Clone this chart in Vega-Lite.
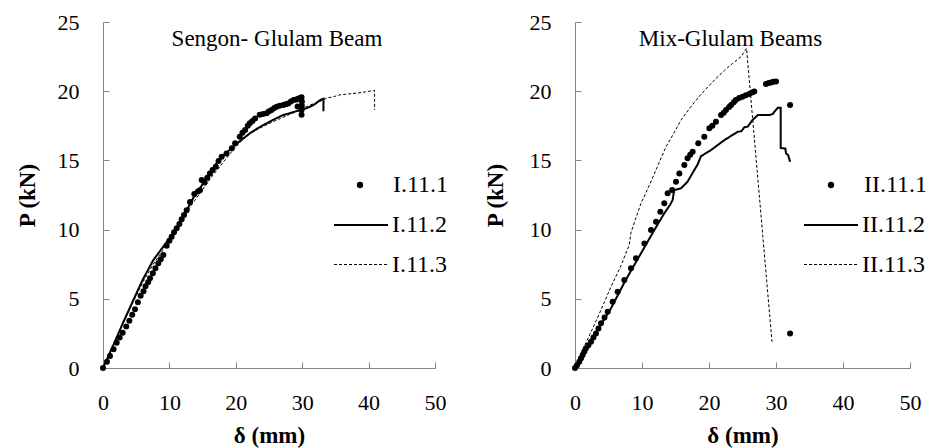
{
"$schema": "https://vega.github.io/schema/vega-lite/v6.json",
"padding": {"left": 16, "top": 11, "right": 5, "bottom": 2},
"background": "white",
"spacing": 35,
"config": {
  "view": {"stroke": null},
  "axis": {"domainColor": "#868686", "tickColor": "#868686", "domainWidth": 1, "tickWidth": 1, "grid": false,
    "labelFont": "Liberation Serif", "labelFontSize": 22, "labelColor": "black",
    "titleFont": "Liberation Serif", "titleFontSize": 23, "titleFontWeight": "bold", "titleColor": "black",
    "tickSize": -6, "labelFlush": false, "labelOverlap": false},
  "title": {"font": "Liberation Serif", "fontSize": 23, "fontWeight": "normal", "color": "black", "anchor": "middle", "frame": "group", "baseline": "middle"},
  "legend": {"labelFont": "Liberation Serif", "labelFontSize": 24, "labelColor": "black", "padding": 0, "title": null, "orient": "none", "symbolOpacity": 1}
},
"datasets": {
  "left": [
    {"s":"I.11.1","i":0,"x":0,"y":0},{"s":"I.11.1","i":1,"x":0.6,"y":0.45},{"s":"I.11.1","i":2,"x":1.05,"y":0.87},{"s":"I.11.1","i":3,"x":1.6,"y":1.35},{"s":"I.11.1","i":4,"x":2.06,"y":1.83},{"s":"I.11.1","i":5,"x":2.5,"y":2.2},{"s":"I.11.1","i":6,"x":2.96,"y":2.55},{"s":"I.11.1","i":7,"x":3.5,"y":3.0},{"s":"I.11.1","i":8,"x":3.97,"y":3.42},{"s":"I.11.1","i":9,"x":4.4,"y":3.85},{"s":"I.11.1","i":10,"x":4.82,"y":4.24},{"s":"I.11.1","i":11,"x":5.25,"y":4.75},{"s":"I.11.1","i":12,"x":5.67,"y":5.22},{"s":"I.11.1","i":13,"x":6.1,"y":5.55},{"s":"I.11.1","i":14,"x":6.4,"y":5.9},{"s":"I.11.1","i":15,"x":6.8,"y":6.2},{"s":"I.11.1","i":16,"x":7.08,"y":6.48},{"s":"I.11.1","i":17,"x":7.5,"y":6.85},{"s":"I.11.1","i":18,"x":7.9,"y":7.2},{"s":"I.11.1","i":19,"x":8.33,"y":7.56},{"s":"I.11.1","i":20,"x":8.7,"y":7.85},{"s":"I.11.1","i":21,"x":9.08,"y":8.16},{"s":"I.11.1","i":22,"x":9.59,"y":8.84},{"s":"I.11.1","i":23,"x":10.0,"y":9.2},{"s":"I.11.1","i":24,"x":10.34,"y":9.49},{"s":"I.11.1","i":25,"x":10.7,"y":9.8},{"s":"I.11.1","i":26,"x":11.1,"y":10.09},{"s":"I.11.1","i":27,"x":11.5,"y":10.4},{"s":"I.11.1","i":28,"x":11.85,"y":10.74},{"s":"I.11.1","i":29,"x":12.2,"y":11.05},{"s":"I.11.1","i":30,"x":12.6,"y":11.4},{"s":"I.11.1","i":31,"x":13.1,"y":12.0},{"s":"I.11.1","i":32,"x":13.75,"y":12.57},{"s":"I.11.1","i":33,"x":14.3,"y":12.75},{"s":"I.11.1","i":34,"x":14.6,"y":12.85},{"s":"I.11.1","i":35,"x":14.86,"y":13.58},{"s":"I.11.1","i":36,"x":15.3,"y":13.4},{"s":"I.11.1","i":37,"x":15.7,"y":13.75},{"s":"I.11.1","i":38,"x":16.1,"y":14.06},{"s":"I.11.1","i":39,"x":16.5,"y":14.3},{"s":"I.11.1","i":40,"x":16.99,"y":14.55},{"s":"I.11.1","i":41,"x":17.4,"y":14.95},{"s":"I.11.1","i":42,"x":17.87,"y":15.27},{"s":"I.11.1","i":43,"x":18.6,"y":15.5},{"s":"I.11.1","i":44,"x":19.4,"y":15.87},{"s":"I.11.1","i":45,"x":19.9,"y":16.24},{"s":"I.11.1","i":46,"x":20.6,"y":16.7},{"s":"I.11.1","i":47,"x":21.0,"y":17.0},{"s":"I.11.1","i":48,"x":21.4,"y":17.2},{"s":"I.11.1","i":49,"x":21.8,"y":17.5},{"s":"I.11.1","i":50,"x":22.1,"y":17.68},{"s":"I.11.1","i":51,"x":22.5,"y":17.85},{"s":"I.11.1","i":52,"x":22.9,"y":18.03},{"s":"I.11.1","i":53,"x":23.6,"y":18.3},{"s":"I.11.1","i":54,"x":24.1,"y":18.35},{"s":"I.11.1","i":55,"x":24.65,"y":18.4},{"s":"I.11.1","i":56,"x":25.0,"y":18.55},{"s":"I.11.1","i":57,"x":25.4,"y":18.64},{"s":"I.11.1","i":58,"x":25.8,"y":18.78},{"s":"I.11.1","i":59,"x":26.15,"y":18.88},{"s":"I.11.1","i":60,"x":26.6,"y":18.95},{"s":"I.11.1","i":61,"x":27.15,"y":19.0},{"s":"I.11.1","i":62,"x":27.5,"y":19.05},{"s":"I.11.1","i":63,"x":27.9,"y":19.12},{"s":"I.11.1","i":64,"x":28.3,"y":19.25},{"s":"I.11.1","i":65,"x":28.7,"y":19.36},{"s":"I.11.1","i":66,"x":29.1,"y":19.4},{"s":"I.11.1","i":67,"x":29.4,"y":19.45},{"s":"I.11.1","i":68,"x":29.7,"y":19.5},{"s":"I.11.1","i":69,"x":29.9,"y":19.56},{"s":"I.11.1","i":70,"x":29.95,"y":19.25},{"s":"I.11.1","i":71,"x":29.95,"y":18.95},{"s":"I.11.1","i":72,"x":29.9,"y":18.65},{"s":"I.11.1","i":73,"x":29.9,"y":18.3},{"s":"I.11.1","i":74,"x":29.3,"y":18.9},
    {"s":"I.11.2","i":0,"x":0,"y":0},{"s":"I.11.2","i":1,"x":1.5,"y":1.6},{"s":"I.11.2","i":2,"x":3.0,"y":3.25},{"s":"I.11.2","i":3,"x":4.57,"y":4.91},{"s":"I.11.2","i":4,"x":6.0,"y":6.4},{"s":"I.11.2","i":5,"x":7.58,"y":7.8},{"s":"I.11.2","i":6,"x":8.5,"y":8.4},{"s":"I.11.2","i":7,"x":9.59,"y":9.1},{"s":"I.11.2","i":8,"x":11.1,"y":10.1},{"s":"I.11.2","i":9,"x":12.5,"y":11.3},{"s":"I.11.2","i":10,"x":13.6,"y":12.3},{"s":"I.11.2","i":11,"x":14.6,"y":12.98},{"s":"I.11.2","i":12,"x":15.8,"y":13.9},{"s":"I.11.2","i":13,"x":17.1,"y":14.8},{"s":"I.11.2","i":14,"x":18.3,"y":15.4},{"s":"I.11.2","i":15,"x":19.6,"y":16.0},{"s":"I.11.2","i":16,"x":20.9,"y":16.5},{"s":"I.11.2","i":17,"x":22.1,"y":16.95},{"s":"I.11.2","i":18,"x":23.4,"y":17.35},{"s":"I.11.2","i":19,"x":24.65,"y":17.68},{"s":"I.11.2","i":20,"x":25.9,"y":18.0},{"s":"I.11.2","i":21,"x":27.15,"y":18.28},{"s":"I.11.2","i":22,"x":28.4,"y":18.45},{"s":"I.11.2","i":23,"x":29.7,"y":18.64},{"s":"I.11.2","i":24,"x":30.5,"y":18.75},{"s":"I.11.2","i":25,"x":31.2,"y":18.88},{"s":"I.11.2","i":26,"x":32.0,"y":19.1},{"s":"I.11.2","i":27,"x":32.7,"y":19.36},{"s":"I.11.2","i":28,"x":33.2,"y":19.45},{"s":"I.11.2","i":29,"x":33.2,"y":18.55},
    {"s":"I.11.3","i":0,"x":0,"y":0},{"s":"I.11.3","i":1,"x":1.5,"y":1.6},{"s":"I.11.3","i":2,"x":3.0,"y":3.2},{"s":"I.11.3","i":3,"x":4.57,"y":4.8},{"s":"I.11.3","i":4,"x":6.0,"y":6.2},{"s":"I.11.3","i":5,"x":7.58,"y":7.5},{"s":"I.11.3","i":6,"x":9.0,"y":8.5},{"s":"I.11.3","i":7,"x":10.5,"y":9.6},{"s":"I.11.3","i":8,"x":12.0,"y":10.8},{"s":"I.11.3","i":9,"x":13.5,"y":11.9},{"s":"I.11.3","i":10,"x":15.0,"y":12.9},{"s":"I.11.3","i":11,"x":16.5,"y":13.9},{"s":"I.11.3","i":12,"x":18.0,"y":14.8},{"s":"I.11.3","i":13,"x":19.5,"y":15.7},{"s":"I.11.3","i":14,"x":20.6,"y":16.3},{"s":"I.11.3","i":15,"x":22.3,"y":17.0},{"s":"I.11.3","i":16,"x":24.1,"y":17.45},{"s":"I.11.3","i":17,"x":25.4,"y":17.75},{"s":"I.11.3","i":18,"x":26.7,"y":18.03},{"s":"I.11.3","i":19,"x":28.0,"y":18.3},{"s":"I.11.3","i":20,"x":29.2,"y":18.55},{"s":"I.11.3","i":21,"x":30.7,"y":18.9},{"s":"I.11.3","i":22,"x":31.7,"y":19.1},{"s":"I.11.3","i":23,"x":32.7,"y":19.27},{"s":"I.11.3","i":24,"x":33.7,"y":19.5},{"s":"I.11.3","i":25,"x":34.7,"y":19.6},{"s":"I.11.3","i":26,"x":35.7,"y":19.74},{"s":"I.11.3","i":27,"x":37.0,"y":19.8},{"s":"I.11.3","i":28,"x":38.2,"y":19.86},{"s":"I.11.3","i":29,"x":39.5,"y":19.95},{"s":"I.11.3","i":30,"x":40.7,"y":20.05},{"s":"I.11.3","i":31,"x":40.9,"y":20.05},{"s":"I.11.3","i":32,"x":40.9,"y":18.65}
  ],
  "right": [
    {"s":"II.11.1","i":0,"x":0,"y":0},{"s":"II.11.1","i":1,"x":0.3,"y":0.2},{"s":"II.11.1","i":2,"x":0.64,"y":0.46},{"s":"II.11.1","i":3,"x":0.9,"y":0.7},{"s":"II.11.1","i":4,"x":1.14,"y":0.94},{"s":"II.11.1","i":5,"x":1.4,"y":1.2},{"s":"II.11.1","i":6,"x":1.64,"y":1.42},{"s":"II.11.1","i":7,"x":2.0,"y":1.65},{"s":"II.11.1","i":8,"x":2.39,"y":1.9},{"s":"II.11.1","i":9,"x":2.75,"y":2.2},{"s":"II.11.1","i":10,"x":3.13,"y":2.5},{"s":"II.11.1","i":11,"x":3.5,"y":2.85},{"s":"II.11.1","i":12,"x":3.88,"y":3.23},{"s":"II.11.1","i":13,"x":4.4,"y":3.65},{"s":"II.11.1","i":14,"x":4.88,"y":4.07},{"s":"II.11.1","i":15,"x":5.62,"y":4.79},{"s":"II.11.1","i":16,"x":6.37,"y":5.51},{"s":"II.11.1","i":17,"x":7.36,"y":6.36},{"s":"II.11.1","i":18,"x":8.36,"y":7.2},{"s":"II.11.1","i":19,"x":9.1,"y":7.93},{"s":"II.11.1","i":20,"x":10.35,"y":9.0},{"s":"II.11.1","i":21,"x":11.34,"y":9.97},{"s":"II.11.1","i":22,"x":12.09,"y":10.57},{"s":"II.11.1","i":23,"x":12.74,"y":11.29},{"s":"II.11.1","i":24,"x":13.33,"y":11.9},{"s":"II.11.1","i":25,"x":13.83,"y":12.62},{"s":"II.11.1","i":26,"x":14.5,"y":12.86},{"s":"II.11.1","i":27,"x":15.07,"y":13.46},{"s":"II.11.1","i":28,"x":15.57,"y":14.06},{"s":"II.11.1","i":29,"x":16.32,"y":14.67},{"s":"II.11.1","i":30,"x":16.8,"y":15.15},{"s":"II.11.1","i":31,"x":17.2,"y":15.4},{"s":"II.11.1","i":32,"x":17.56,"y":15.63},{"s":"II.11.1","i":33,"x":18.4,"y":16.24},{"s":"II.11.1","i":34,"x":19.3,"y":16.71},{"s":"II.11.1","i":35,"x":20.05,"y":17.32},{"s":"II.11.1","i":36,"x":20.5,"y":17.5},{"s":"II.11.1","i":37,"x":21.04,"y":17.8},{"s":"II.11.1","i":38,"x":21.8,"y":18.28},{"s":"II.11.1","i":39,"x":22.2,"y":18.45},{"s":"II.11.1","i":40,"x":22.54,"y":18.64},{"s":"II.11.1","i":41,"x":23.0,"y":18.85},{"s":"II.11.1","i":42,"x":23.3,"y":19.0},{"s":"II.11.1","i":43,"x":23.7,"y":19.2},{"s":"II.11.1","i":44,"x":24.0,"y":19.36},{"s":"II.11.1","i":45,"x":24.5,"y":19.5},{"s":"II.11.1","i":46,"x":25.0,"y":19.6},{"s":"II.11.1","i":47,"x":25.5,"y":19.7},{"s":"II.11.1","i":48,"x":26.0,"y":19.8},{"s":"II.11.1","i":49,"x":26.4,"y":19.9},{"s":"II.11.1","i":50,"x":26.76,"y":19.98},{"s":"II.11.1","i":51,"x":28.5,"y":20.52},{"s":"II.11.1","i":52,"x":28.9,"y":20.6},{"s":"II.11.1","i":53,"x":29.25,"y":20.62},{"s":"II.11.1","i":54,"x":29.6,"y":20.68},{"s":"II.11.1","i":55,"x":30.0,"y":20.7},{"s":"II.11.1","i":56,"x":32.1,"y":19.0},{"s":"II.11.1","i":57,"x":32.1,"y":2.5},
    {"s":"II.11.2","i":0,"x":0,"y":0},{"s":"II.11.2","i":1,"x":1.5,"y":1.2},{"s":"II.11.2","i":2,"x":3.0,"y":2.45},{"s":"II.11.2","i":3,"x":5.37,"y":4.31},{"s":"II.11.2","i":4,"x":7.5,"y":6.3},{"s":"II.11.2","i":5,"x":9.85,"y":8.29},{"s":"II.11.2","i":6,"x":11.84,"y":9.97},{"s":"II.11.2","i":7,"x":13.33,"y":11.18},{"s":"II.11.2","i":8,"x":14.2,"y":11.8},{"s":"II.11.2","i":9,"x":14.58,"y":12.14},{"s":"II.11.2","i":10,"x":14.8,"y":12.86},{"s":"II.11.2","i":11,"x":15.8,"y":12.98},{"s":"II.11.2","i":12,"x":16.8,"y":13.46},{"s":"II.11.2","i":13,"x":17.8,"y":14.3},{"s":"II.11.2","i":14,"x":18.3,"y":14.7},{"s":"II.11.2","i":15,"x":18.8,"y":15.3},{"s":"II.11.2","i":16,"x":20.3,"y":15.75},{"s":"II.11.2","i":17,"x":22.3,"y":16.47},{"s":"II.11.2","i":18,"x":24.3,"y":17.07},{"s":"II.11.2","i":19,"x":24.8,"y":17.1},{"s":"II.11.2","i":20,"x":25.3,"y":17.4},{"s":"II.11.2","i":21,"x":25.8,"y":17.45},{"s":"II.11.2","i":22,"x":26.5,"y":17.92},{"s":"II.11.2","i":23,"x":27.3,"y":18.28},{"s":"II.11.2","i":24,"x":29.0,"y":18.28},{"s":"II.11.2","i":25,"x":29.5,"y":18.35},{"s":"II.11.2","i":26,"x":30.25,"y":18.8},{"s":"II.11.2","i":27,"x":30.7,"y":18.8},{"s":"II.11.2","i":28,"x":30.7,"y":15.9},{"s":"II.11.2","i":29,"x":31.4,"y":15.85},{"s":"II.11.2","i":30,"x":31.5,"y":15.5},{"s":"II.11.2","i":31,"x":31.8,"y":15.4},{"s":"II.11.2","i":32,"x":32.1,"y":14.9},
    {"s":"II.11.3","i":0,"x":0,"y":0},{"s":"II.11.3","i":1,"x":0.85,"y":1.0},{"s":"II.11.3","i":2,"x":2.39,"y":2.6},{"s":"II.11.3","i":3,"x":3.88,"y":4.19},{"s":"II.11.3","i":4,"x":5.37,"y":5.87},{"s":"II.11.3","i":5,"x":6.87,"y":7.4},{"s":"II.11.3","i":6,"x":8.1,"y":8.9},{"s":"II.11.3","i":7,"x":8.36,"y":9.8},{"s":"II.11.3","i":8,"x":9.85,"y":11.9},{"s":"II.11.3","i":9,"x":11.1,"y":13.2},{"s":"II.11.3","i":10,"x":12.34,"y":14.6},{"s":"II.11.3","i":11,"x":13.6,"y":16.0},{"s":"II.11.3","i":12,"x":14.8,"y":17.0},{"s":"II.11.3","i":13,"x":15.8,"y":17.9},{"s":"II.11.3","i":14,"x":17.3,"y":18.88},{"s":"II.11.3","i":15,"x":18.5,"y":19.6},{"s":"II.11.3","i":16,"x":19.8,"y":20.3},{"s":"II.11.3","i":17,"x":21.0,"y":20.9},{"s":"II.11.3","i":18,"x":22.3,"y":21.5},{"s":"II.11.3","i":19,"x":23.5,"y":22.0},{"s":"II.11.3","i":20,"x":24.8,"y":22.5},{"s":"II.11.3","i":21,"x":25.6,"y":23.1},{"s":"II.11.3","i":22,"x":29.4,"y":1.9}
  ]
},
"resolve": {"scale": {"shape": "independent", "strokeDash": "independent", "strokeWidth": "independent"}, "legend": {"shape": "independent", "strokeDash": "independent", "strokeWidth": "independent"}},
"hconcat": [
  {
    "width": 332, "height": 346,
    "title": {"text": "Sengon- Glulam Beam", "offset": -40, "dx": 8},
    "data": {"name": "left"},
    "layer": [
      {
        "transform": [{"filter": "datum.s === 'I.11.1'"}],
        "mark": {"type": "point", "filled": true, "size": 36, "color": "black", "opacity": 1},
        "encoding": {
          "x": {"field": "x", "type": "quantitative", "scale": {"domain": [0, 50], "nice": false}, "axis": {"values": [0,10,20,30,40,50], "title": "δ (mm)", "labelPadding": 30, "titlePadding": 11}},
          "y": {"field": "y", "type": "quantitative", "scale": {"domain": [0, 25], "nice": false}, "axis": {"values": [0,5,10,15,20,25], "title": "P (kN)", "labelPadding": 30, "titlePadding": 18}},
          "shape": {"field": "s", "type": "nominal", "scale": {"domain": ["I.11.1"], "range": ["circle"]},
            "legend": {"legendX": 245, "legendY": 151, "symbolSize": 40, "symbolFillColor": "black", "symbolStrokeWidth": 0, "labelOffset": 21}}
        }
      },
      {
        "transform": [{"filter": "datum.s !== 'I.11.1'"}],
        "mark": {"type": "line", "color": "black"},
        "encoding": {
          "x": {"field": "x", "type": "quantitative"},
          "y": {"field": "y", "type": "quantitative"},
          "order": {"field": "i", "type": "quantitative"},
          "strokeDash": {"field": "s", "type": "nominal", "scale": {"domain": ["I.11.2", "I.11.3"], "range": [[1, 0], [3, 2]]},
            "legend": {"legendX": 230, "legendY": 175, "symbolSize": 2916, "symbolStrokeColor": "black", "labelOffset": 3, "rowPadding": -1}},
          "strokeWidth": {"field": "s", "type": "nominal", "scale": {"domain": ["I.11.2", "I.11.3"], "range": [2, 1]},
            "legend": {"legendX": 230, "legendY": 175, "symbolSize": 2916, "symbolStrokeColor": "black", "labelOffset": 3, "rowPadding": -1}}
        }
      }
    ]
  },
  {
    "width": 335, "height": 346,
    "title": {"text": "Mix-Glulam Beams", "offset": -40, "dx": -12},
    "data": {"name": "right"},
    "layer": [
      {
        "transform": [{"filter": "datum.s === 'II.11.1'"}],
        "mark": {"type": "point", "filled": true, "size": 36, "color": "black", "opacity": 1},
        "encoding": {
          "x": {"field": "x", "type": "quantitative", "scale": {"domain": [0, 50], "nice": false}, "axis": {"values": [0,10,20,30,40,50], "title": "δ (mm)", "labelPadding": 30, "titlePadding": 11}},
          "y": {"field": "y", "type": "quantitative", "scale": {"domain": [0, 25], "nice": false}, "axis": {"values": [0,5,10,15,20,25], "title": "P (kN)", "labelPadding": 30, "titlePadding": 22}},
          "shape": {"field": "s", "type": "nominal", "scale": {"domain": ["II.11.1"], "range": ["circle"]},
            "legend": {"legendX": 244, "legendY": 151, "symbolSize": 40, "symbolFillColor": "black", "symbolStrokeWidth": 0, "labelOffset": 21}}
        }
      },
      {
        "transform": [{"filter": "datum.s !== 'II.11.1'"}],
        "mark": {"type": "line", "color": "black"},
        "encoding": {
          "x": {"field": "x", "type": "quantitative"},
          "y": {"field": "y", "type": "quantitative"},
          "order": {"field": "i", "type": "quantitative"},
          "strokeDash": {"field": "s", "type": "nominal", "scale": {"domain": ["II.11.2", "II.11.3"], "range": [[1, 0], [3, 2]]},
            "legend": {"legendX": 228, "legendY": 175, "symbolSize": 2916, "symbolStrokeColor": "black", "labelOffset": 3, "rowPadding": -1}},
          "strokeWidth": {"field": "s", "type": "nominal", "scale": {"domain": ["II.11.2", "II.11.3"], "range": [2, 1]},
            "legend": {"legendX": 228, "legendY": 175, "symbolSize": 2916, "symbolStrokeColor": "black", "labelOffset": 3, "rowPadding": -1}}
        }
      }
    ]
  }
]
}
